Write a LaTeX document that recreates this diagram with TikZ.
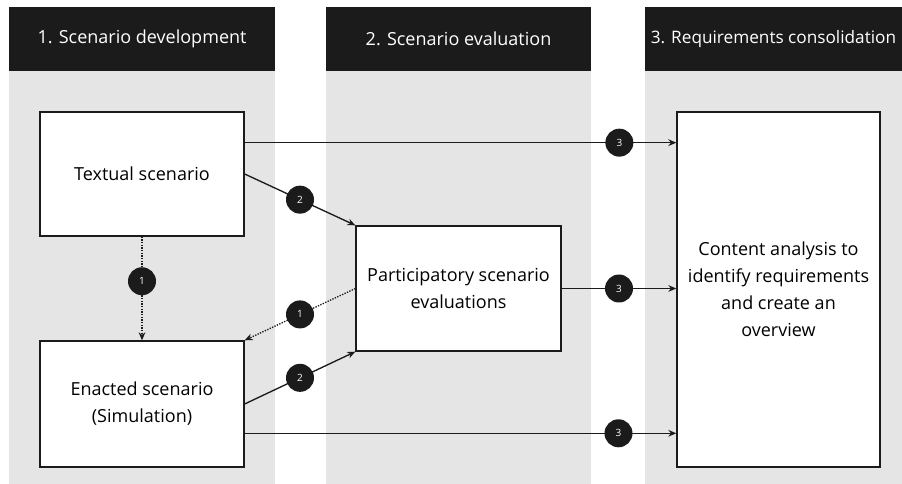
\documentclass[tikz,border=0pt]{standalone}
\usepackage{fontspec}
\setmainfont{Open Sans}
\usetikzlibrary{arrows.meta,calc}
\definecolor{hdark}{HTML}{1B1B1B}
\definecolor{lane}{HTML}{E5E5E5}
\begin{document}
\begin{tikzpicture}[x=0.75pt,y=-0.75pt,
  lanebg/.style={fill=lane,draw=none},
  lanehead/.style={fill=hdark,draw=none,text=white,inner sep=0pt,font=\fontsize{13.5}{16}\selectfont},
  stepbox/.style={rectangle,draw=hdark,fill=white,line width=1pt,inner sep=0pt,align=center,font=\fontsize{13.5}{20.2}\selectfont},
  badge/.style={circle,fill=hdark,text=white,inner sep=0pt,minimum size=21pt,font=\fontsize{7.5}{8}\selectfont},
  flow/.style={draw=hdark,line width=1pt,-{Stealth[length=6pt,width=5pt]}},
  back/.style={flow,densely dotted}]
\useasboundingbox (0,0) rectangle (902,484);
\fill[white] (0,0) rectangle (902,484);
\fill[lanebg] (9,71) rectangle (275,484);
\fill[lanebg] (326,71) rectangle (591,484);
\fill[lanebg] (645,71) rectangle (902,484);
\node[lanehead,minimum width=199.5pt,minimum height=48pt] (h1) at (142,39) {1. Scenario development};
\node[lanehead,minimum width=198.75pt,minimum height=48pt] (h2) at (458.5,39) {2. Scenario evaluation};
\node[lanehead,minimum width=192.75pt,minimum height=48pt,font=\fontsize{12.9}{16}\selectfont] (h3) at (773.5,39) {3. Requirements consolidation};

\node[stepbox,minimum width=153pt,minimum height=93pt] (txt) at (142,174) {Textual scenario};
\node[stepbox,minimum width=153pt,minimum height=94.5pt] (enc) at (142,404) {Enacted scenario\\(Simulation)};
\node[stepbox,minimum width=153.75pt,minimum height=93.75pt] (par) at (458.5,288.5) {Participatory scenario\\evaluations};
\node[stepbox,minimum width=152.25pt,minimum height=266.25pt] (cnt) at (778.5,289.5) {Content analysis to\\identify requirements\\and create an\\overview};

\coordinate (t3) at ($(txt.north east)!0.25!(txt.south east)$);
\coordinate (e3) at ($(enc.north east)!0.73!(enc.south east)$);

\draw[flow] (t3) -- node[badge,pos=0.868] (b3a) {3} (t3 -| cnt.west);
\draw[flow] (par.east) -- node[badge,pos=0.5] (b3b) {3} (par.east -| cnt.west);
\draw[flow] (e3) -- node[badge,pos=0.866] (b3c) {3} (e3 -| cnt.west);
\draw[flow] (txt.east) -- node[badge,pos=0.5] (b2a) {2} (par.north west);
\draw[flow] (enc.east) -- node[badge,pos=0.5] (b2b) {2} (par.south west);
\draw[back] (txt.south) -- node[badge,pos=0.43] (b1a) {1} (enc.north);
\draw[back] (par.west) -- node[badge,pos=0.5] (b1b) {1} (enc.north east);
\end{tikzpicture}
\end{document}
